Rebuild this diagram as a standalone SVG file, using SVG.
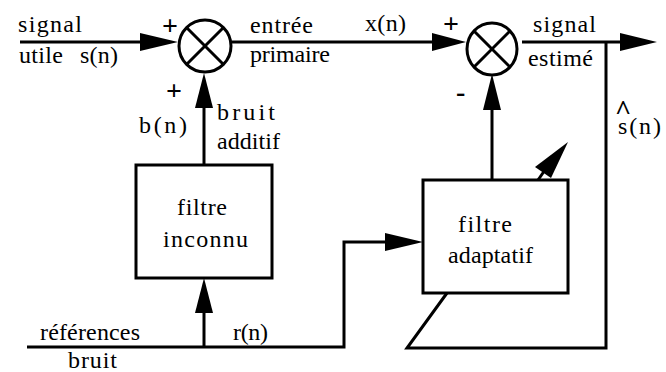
<svg xmlns="http://www.w3.org/2000/svg" width="666" height="372" viewBox="0 0 666 372">
<style>
.ln{fill:none;stroke:#000;stroke-width:3;stroke-linejoin:miter}
.bx{fill:#fff;stroke:#000;stroke-width:3}
.ah{fill:#000;stroke:none}
.t{font-family:'Liberation Serif','DejaVu Serif',serif;font-size:24px;fill:#000}
.sg{font-size:28px;font-weight:bold}
</style>
<rect width="666" height="372" fill="#fff"/>
<g id="connectors">
<line class="ln" x1="20" y1="42" x2="150" y2="42"/>
<polygon class="ah" points="178,42 140,33 140,51"/>
<line class="ln" x1="232" y1="42" x2="440" y2="42"/>
<polygon class="ah" points="466,42 432,33 432,51"/>
<line class="ln" x1="522" y1="42" x2="630" y2="42"/>
<polygon class="ah" points="657,42 620,33 620,51"/>
<polyline class="ln" points="606,42 606,348 407,348 447,293"/>
<line class="ln" x1="204" y1="165" x2="204" y2="100"/>
<polygon class="ah" points="204,73 195,108 213,108"/>
<line class="ln" x1="492" y1="180" x2="492" y2="100"/>
<polygon class="ah" points="492,74 483,110 501,110"/>
<polyline class="ln" points="27,347 344,347 344,242 395,242"/>
<polygon class="ah" points="423,242 385,233 385,251"/>
<line class="ln" x1="204" y1="347" x2="204" y2="300"/>
<polygon class="ah" points="204,278 195,313 213,313"/>
<line class="ln" x1="538" y1="180" x2="545" y2="170"/>
<polygon class="ah" points="568,142 535,167 551,178"/>
</g>
<g id="sum1">
<ellipse class="ln" cx="205" cy="46" rx="26" ry="26"/>
<line class="ln" x1="187" y1="28" x2="223" y2="64"/>
<line class="ln" x1="223" y1="28" x2="187" y2="64"/>
</g>
<g id="sum2">
<ellipse class="ln" cx="492" cy="49" rx="25" ry="26"/>
<line class="ln" x1="474" y1="31" x2="510" y2="67"/>
<line class="ln" x1="510" y1="31" x2="474" y2="67"/>
</g>
<g id="filtre-inconnu" class="t" font-family="Liberation Serif, serif">
<rect class="bx" x="136" y="165" width="136" height="113"/>
<text x="177" y="215" textLength="50" lengthAdjust="spacing">filtre</text>
<text x="163" y="247" textLength="85" lengthAdjust="spacing">inconnu</text>
</g>
<g id="filtre-adaptatif" class="t" font-family="Liberation Serif, serif">
<rect class="bx" x="423" y="180" width="145" height="113"/>
<text x="458" y="232" textLength="54" lengthAdjust="spacing">filtre</text>
<text x="448" y="263" textLength="85" lengthAdjust="spacing">adaptatif</text>
</g>
<g id="labels" class="t" font-family="Liberation Serif, serif">
<text x="18" y="32" textLength="64" lengthAdjust="spacing">signal</text>
<text x="19" y="63" textLength="44" lengthAdjust="spacing">utile</text>
<text x="80" y="63" textLength="38" lengthAdjust="spacing">s(n)</text>
<text class="sg" x="162" y="35">+</text>
<text x="250" y="33" textLength="63" lengthAdjust="spacing">entrée</text>
<text x="250" y="62" textLength="80" lengthAdjust="spacing">primaire</text>
<text class="sg" x="166" y="100">+</text>
<text x="139" y="133" textLength="48" lengthAdjust="spacing">b(n)</text>
<text x="217" y="120" textLength="58" lengthAdjust="spacing">bruit</text>
<text x="217" y="149" textLength="63" lengthAdjust="spacing">additif</text>
<text x="365" y="31" textLength="41" lengthAdjust="spacing">x(n)</text>
<text class="sg" x="443" y="33">+</text>
<text x="533" y="32" textLength="63" lengthAdjust="spacing">signal</text>
<text x="528" y="66" textLength="65" lengthAdjust="spacing">estimé</text>
<text class="sg" x="456" y="101">-</text>
<text class="sg" x="615" y="119" font-size="34">^</text>
<text x="618" y="134" textLength="43" lengthAdjust="spacing">s(n)</text>
<text x="40" y="340" textLength="100" lengthAdjust="spacing">références</text>
<text x="68" y="368" textLength="49" lengthAdjust="spacing">bruit</text>
<text x="233" y="340" textLength="35" lengthAdjust="spacing">r(n)</text>
</g>
</svg>
